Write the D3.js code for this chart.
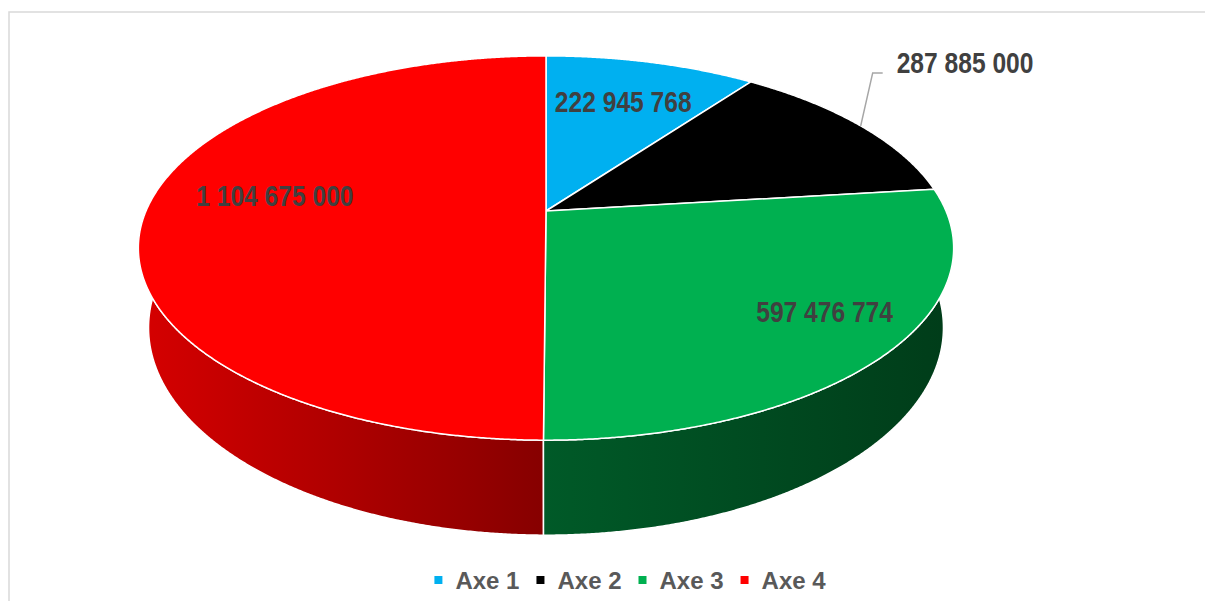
<!DOCTYPE html>
<html>
<head>
<meta charset="utf-8">
<script src="https://cdn.jsdelivr.net/npm/d3@7"></script>
<style>
  html, body { margin: 0; padding: 0; background: #ffffff; }
  svg { display: block; }
</style>
</head>
<body>
<svg id="chart" width="1205" height="601"></svg>
<script>
// Budget per axis
const categories = ["Axe 1", "Axe 2", "Axe 3", "Axe 4"];
const values = [222945768, 287885000, 597476774, 1104675000];
const topColors = ["#00b0f0", "#000000", "#00b050", "#ff0000"];
const sideColors = [
  ["#0082b4", "#005f84"],
  ["#000000", "#000000"],
  ["#005a28", "#003c19"],
  ["#d60000", "#860000"]
];

const W = 1205, H = 601;
const svg = d3.select("#chart");

// Chart frame
svg.append("rect")
  .attr("x", 9).attr("y", 12)
  .attr("width", W + 20).attr("height", H + 20)
  .attr("fill", "none").attr("stroke", "#d9d9d9").attr("stroke-width", 1.5);

// Perspective model of a tilted disc (radius 1) with some thickness
const cam = {
  cx: 546,     // screen x of disc centre
  cy: 211,     // screen y of disc centre
  A: 400,      // horizontal scale
  B: 185,      // vertical scale
  k: 0.1927,   // perspective strength (front closer than back)
  D: 76.7,     // thickness
  sx: 0.975    // horizontal shrink of the bottom rim
};

// theta: clockwise from 12 o'clock; r: radius fraction; z: 0 = top, 1 = bottom
function project(theta, r, z) {
  const u = r * Math.sin(theta);
  const v = -r * Math.cos(theta);
  const w = 1 - cam.k * v;
  const shrink = 1 - z * (1 - cam.sx);
  return [
    cam.cx + (cam.A * u / w) * shrink,
    cam.cy + cam.B * v / w + z * cam.D / w
  ];
}

const pie = d3.pie().sort(null).value(d => d)
  .startAngle(0).endAngle(2 * Math.PI);
const arcs = pie(values);

const step = Math.PI / 720;
function arcSamples(a0, a1) {
  const n = Math.max(2, Math.ceil(Math.abs(a1 - a0) / step));
  return d3.range(n + 1).map(i => a0 + (a1 - a0) * i / n);
}

const line = d3.line();

// Side gradients (horizontal shading across the rim)
const defs = svg.append("defs");
arcs.forEach((a, i) => {
  const pts = arcSamples(a.startAngle, a.endAngle).map(t => project(t, 1, 0)[0]);
  const g = defs.append("linearGradient")
    .attr("id", "side" + i)
    .attr("gradientUnits", "userSpaceOnUse")
    .attr("x1", d3.min(pts))
    .attr("x2", d3.max(pts))
    .attr("y1", 0).attr("y2", 0);
  const c = sideColors[i];
  g.append("stop").attr("offset", 0).attr("stop-color", c[0]);
  g.append("stop").attr("offset", 1).attr("stop-color", c[1]);
});

// Rim sides: back slices first, then front ones
const sideOrder = [0, 1, 3, 2];
const sides = svg.append("g");
sideOrder.forEach(i => {
  const a = arcs[i];
  const ts = arcSamples(a.startAngle, a.endAngle);
  const pts = ts.map(t => project(t, 1, 0))
    .concat(ts.slice().reverse().map(t => project(t, 1, 1)));
  sides.append("path")
    .attr("d", line(pts) + "Z")
    .attr("fill", `url(#side${i})`)
    .attr("stroke", "#ffffff")
    .attr("stroke-width", 1.5)
    .attr("stroke-linejoin", "round");
});

// Top faces
const tops = svg.append("g");
arcs.forEach((a, i) => {
  const ts = arcSamples(a.startAngle, a.endAngle);
  const pts = [project(0, 0, 0)].concat(ts.map(t => project(t, 1, 0)));
  tops.append("path")
    .attr("d", line(pts) + "Z")
    .attr("fill", topColors[i])
    .attr("stroke", "#ffffff")
    .attr("stroke-width", 1.5)
    .attr("stroke-linejoin", "round");
});

// Data labels (French thousands separator)
const fmt = d3.formatLocale({ decimal: ",", thousands: "\u00a0", grouping: [3], currency: ["", ""] }).format(",d");
const labelFont = "'Liberation Sans', Arial, sans-serif";
const labelPlacement = [
  { frac: 0.5, r: 0.7 },
  { leader: true },
  { frac: 0.462, r: 0.8 },
  { frac: 0.538, r: 0.694 }
];

const labels = svg.append("g");
function narrowText(g, x, y, text, anchor) {
  return g.append("text")
    .attr("transform", `translate(${x},${y}) scale(0.82,1)`)
    .attr("text-anchor", anchor)
    .attr("font-family", labelFont)
    .attr("font-weight", "bold")
    .attr("font-size", 30)
    .attr("fill", "#404040")
    .text(text);
}

arcs.forEach((a, i) => {
  const p = labelPlacement[i];
  const label = fmt(values[i]);
  if (p.leader) {
    const mid = (a.startAngle + a.endAngle) / 2;
    const [ax, ay] = project(mid, 1, 0);
    const ex = ax + 12, ey = ay - 53;
    labels.append("path")
      .attr("d", line([[ax, ay], [ex, ey], [ex + 10, ey]]))
      .attr("fill", "none")
      .attr("stroke", "#a6a6a6")
      .attr("stroke-width", 1.5);
    narrowText(labels, ex + 24, ey, label, "start");
  } else {
    const t = a.startAngle + (a.endAngle - a.startAngle) * p.frac;
    const [x, y] = project(t, p.r, 0);
    narrowText(labels, x, y + 10.5, label, "middle");
  }
});

// Legend
const legend = svg.append("g");
const legendBaseline = 589;
const items = legend.selectAll("g").data(categories).join("g");
items.append("rect")
  .attr("width", 8).attr("height", 8)
  .attr("y", legendBaseline - 13)
  .attr("fill", (d, i) => topColors[i]);
items.append("text")
  .attr("x", 21)
  .attr("y", legendBaseline)
  .attr("font-family", labelFont)
  .attr("font-weight", "bold")
  .attr("font-size", 24)
  .attr("fill", "#595959")
  .text(d => d);

let widths = [];
items.each(function () {
  widths.push(21 + d3.select(this).select("text").node().getComputedTextLength());
});
const gap = 17;
const total = d3.sum(widths) + gap * (widths.length - 1);
let x0 = 630 - total / 2;
items.attr("transform", (d, i) => {
  const x = x0;
  x0 += widths[i] + gap;
  return `translate(${x},0)`;
});
</script>
</body>
</html>
